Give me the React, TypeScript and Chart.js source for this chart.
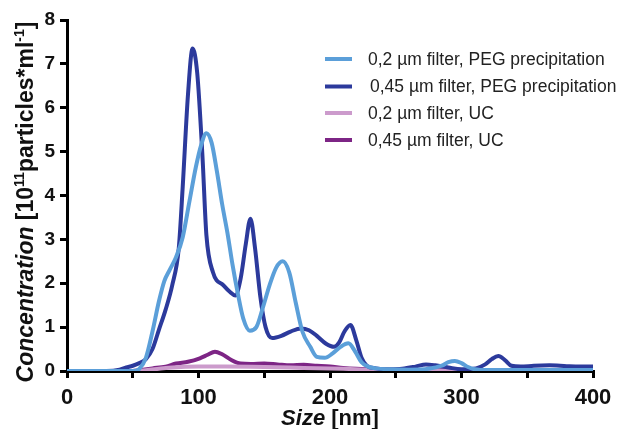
import React, { useEffect, useRef } from "react";
import { Chart, registerables } from "chart.js";

Chart.register(...registerables);

const FONT = "'Liberation Sans', Arial, Helvetica, sans-serif";

const seriesLabels = [
  "0,2 µm filter, PEG precipitation",
  "0,45 µm filter, PEG precipitation",
  "0,2 µm filter, UC",
  "0,45 µm filter, UC",
];
const seriesColors = ["#5b9fd9", "#2c3a9c", "#cc9bcc", "#7d2585"];

const peg02Sizes = [0, 50, 55, 60, 65, 70, 74, 78, 83, 88, 93, 98, 102, 106, 110, 114, 118, 122, 126, 130, 134, 139, 144, 149, 154, 159, 164, 169, 174, 179, 185, 190, 196, 202, 208, 214, 219, 224, 229, 235, 245, 260, 275, 285, 290, 295, 300, 305, 310, 320, 340, 360, 380, 400];
const peg02Values = [0, 0, 0.05, 0.3, 0.9, 1.6, 2.05, 2.3, 2.6, 3.05, 3.85, 4.65, 5.15, 5.42, 5.2, 4.55, 3.8, 3.15, 2.4, 1.75, 1.2, 0.92, 1.0, 1.45, 1.95, 2.35, 2.5, 2.25, 1.55, 0.9, 0.55, 0.32, 0.3, 0.4, 0.55, 0.63, 0.45, 0.2, 0.1, 0.06, 0.04, 0.03, 0.05, 0.12, 0.2, 0.23, 0.18, 0.09, 0.04, 0.02, 0.02, 0.02, 0.02, 0.02];

const peg045Sizes = [0, 30, 40, 45, 50, 55, 60, 65, 70, 75, 80, 85, 88, 92, 95.5, 99, 103, 106, 111, 119, 124, 128, 132, 136, 139.5, 143, 147, 151, 156, 163, 170, 178, 184, 190, 197, 203, 207, 211, 215.5, 220, 224, 228, 235, 245, 255, 265, 273, 280, 290, 300, 311, 318, 323, 328, 333, 338, 345, 355, 367, 380, 390, 400];
const peg045Values = [0, 0, 0.03, 0.08, 0.12, 0.18, 0.27, 0.5, 0.95, 1.4, 1.95, 2.8, 4.2, 6.3, 7.35, 6.8, 4.9, 3.1, 2.25, 1.95, 1.8, 1.72, 2.1, 2.9, 3.47, 2.8, 1.7, 1.0, 0.75, 0.8, 0.9, 0.97, 0.93, 0.8, 0.62, 0.55, 0.65, 0.9, 1.05, 0.7, 0.3, 0.12, 0.06, 0.04, 0.05, 0.1, 0.15, 0.13, 0.08, 0.04, 0.06, 0.15, 0.27, 0.34, 0.25, 0.12, 0.1, 0.12, 0.13, 0.11, 0.1, 0.1];

const uc02Sizes = [0, 50, 60, 70, 80, 100, 120, 150, 180, 210, 240, 300, 400];
const uc02Values = [0, 0, 0.02, 0.05, 0.08, 0.1, 0.1, 0.09, 0.07, 0.05, 0.02, 0.01, 0.01];

const uc045Sizes = [0, 50, 55, 65, 75, 83, 92, 101, 107, 112.5, 118, 125, 132, 140, 150, 160, 170, 180, 190, 200, 210, 220, 235, 250, 300, 350, 400];
const uc045Values = [0, 0, 0.02, 0.06, 0.1, 0.17, 0.21, 0.29, 0.37, 0.44, 0.38, 0.25, 0.17, 0.16, 0.17, 0.15, 0.13, 0.14, 0.12, 0.1, 0.07, 0.05, 0.03, 0.02, 0.02, 0.02, 0.02];

const allSizes = [peg02Sizes, peg045Sizes, uc02Sizes, uc045Sizes];
const allValues = [peg02Values, peg045Values, uc02Values, uc045Values];

const xTickLabels = ["0", "100", "200", "300", "400"];
const yTickLabels = ["0", "1", "2", "3", "4", "5", "6", "7", "8"];

const titlePlugin = {
  id: "customTitles",
  afterDraw(chart: any) {
    const ctx = chart.ctx;
    const area = chart.chartArea;
    ctx.save();
    ctx.fillStyle = "#111";
    // X title
    const xParts = [
      { t: "Size", f: `italic bold 22px ${FONT}` },
      { t: " [nm]", f: `bold 22px ${FONT}` },
    ];
    let w = 0;
    xParts.forEach((p) => { ctx.font = p.f; w += ctx.measureText(p.t).width; });
    let x = (area.left + area.right) / 2 - w / 2;
    ctx.textBaseline = "alphabetic";
    ctx.textAlign = "left";
    xParts.forEach((p) => { ctx.font = p.f; ctx.fillText(p.t, x, 425); x += ctx.measureText(p.t).width; });

    // Y title
    const yParts = [
      { t: "Concentration", f: `italic bold 23px ${FONT}`, dy: 0 },
      { t: " [10", f: `bold 23px ${FONT}`, dy: 0 },
      { t: "11", f: `bold 14px ${FONT}`, dy: -9 },
      { t: "particles*ml", f: `bold 23px ${FONT}`, dy: 0 },
      { t: "-1", f: `bold 14px ${FONT}`, dy: -9 },
      { t: "]", f: `bold 23px ${FONT}`, dy: 0 },
    ];
    w = 0;
    yParts.forEach((p) => { ctx.font = p.f; w += ctx.measureText(p.t).width; });
    ctx.translate(33, 202);
    ctx.rotate(-Math.PI / 2);
    x = -w / 2;
    yParts.forEach((p) => { ctx.font = p.f; ctx.fillText(p.t, x, p.dy); x += ctx.measureText(p.t).width; });
    ctx.restore();

    // Legend
    ctx.save();
    const rows = [59, 86.5, 113, 140];
    chart.data.datasets.forEach((ds: any, i: number) => {
      ctx.strokeStyle = ds.borderColor;
      ctx.lineWidth = 4;
      ctx.beginPath();
      ctx.moveTo(325, rows[i]);
      ctx.lineTo(352, rows[i]);
      ctx.stroke();
      ctx.fillStyle = "#222";
      ctx.font = `17.5px ${FONT}`;
      ctx.textBaseline = "middle";
      ctx.textAlign = "left";
      ctx.fillText(ds.label, i === 1 ? 370 : 368, rows[i] + 1);
    });
    ctx.restore();
  },
};

export default function App() {
  const ref = useRef<HTMLCanvasElement>(null);
  useEffect(() => {
    if (!ref.current) return;
    const chart = new Chart(ref.current, {
      type: "line",
      data: {
        datasets: seriesLabels.map((label, i) => ({
          label,
          data: allSizes[i].map((s, j) => ({ x: s, y: allValues[i][j] })),
          borderColor: seriesColors[i],
          backgroundColor: seriesColors[i],
          borderWidth: 4,
          pointRadius: 0,
          cubicInterpolationMode: "monotone" as const,
          fill: false,
        })),
      },
      options: {
        responsive: false,
        animation: false,
        devicePixelRatio: 1,
        layout: { padding: { top: 20, right: 31, left: 0, bottom: 0 } },
        plugins: { legend: { display: false }, tooltip: { enabled: false } },
        scales: {
          x: {
            type: "linear",
            min: 0,
            max: 400,
            afterFit: (s: any) => { s.height = 58; },
            border: { display: true, width: 3, color: "#000" },
            grid: { drawOnChartArea: false, drawTicks: true, tickLength: 7, color: "#000", lineWidth: 3 },
            ticks: {
              stepSize: 50,
              padding: 7,
              maxRotation: 0,
              autoSkip: false,
              color: "#111",
              font: { family: FONT, size: 22, weight: "bold" },
              callback: (v: any) => (v % 100 === 0 ? xTickLabels[v / 100] : ""),
            },
          },
          y: {
            min: 0,
            max: 8,
            afterFit: (s: any) => { s.width = 67; },
            border: { display: true, width: 3, color: "#000" },
            grid: { drawOnChartArea: false, drawTicks: true, tickLength: 7, color: "#000", lineWidth: 3 },
            ticks: {
              stepSize: 1,
              padding: 5,
              color: "#111",
              font: { family: FONT, size: 19, weight: "bold" },
              callback: (v: any) => yTickLabels[v],
            },
          },
        },
      },
      plugins: [titlePlugin],
    });
    return () => chart.destroy();
  }, []);
  return (
    <div style={{ position: "absolute", left: 0, top: 0, width: 624, height: 429, background: "#fff" }}>
      <canvas ref={ref} width={624} height={429} />
    </div>
  );
}
